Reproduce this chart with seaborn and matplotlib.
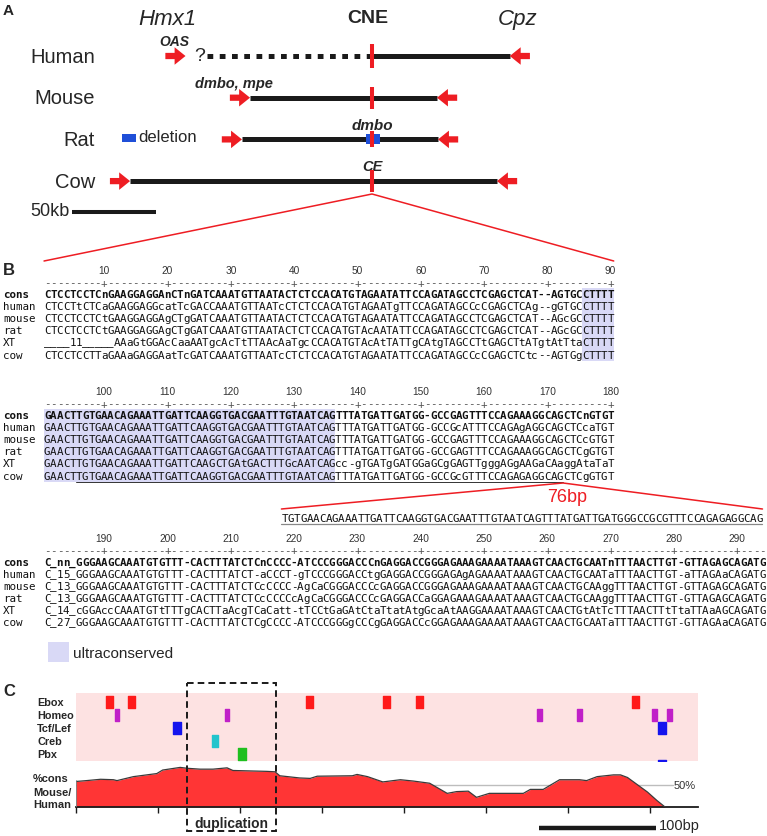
import numpy as np
import pandas as pd
import seaborn as sns
import matplotlib.pyplot as plt
from matplotlib import transforms
from matplotlib.patches import Rectangle, FancyArrow

# ---------------- Panel A data (kb, CNE at 0) ----------------
species = ['Human', 'Mouse', 'Rat', 'Cow']
hmx1_kb = [-111, -72.6, -77.4, -144]      # Hmx1 end (arrow tip)
cpz_kb = [82, 38.7, 39.3, 74.4]           # Cpz end (arrow tip)
human_unknown_kb = [-98, 0]               # unassembled part, dotted
rat_deletion_kb = [-3.6, 4.8]
scale_kb = 50

# ---------------- Panel B data (alignment) ----------------
seq_names = ['cons', 'human', 'mouse', 'rat', 'XT', 'cow']
block_first_pos = [1, 91, 181]

aln_1_90 = [
    'CTCCTCCTCnGAAGGAGGAnCTnGATCAAATGTTAATACTCTCCACATGTAGAATATTCCAGATAGCCTCGAGCTCAT--AGTGCCTTTT',
    'CTCCTtCTCaGAAGGAGGcatTcGACCAAATGTTAATcCTCTCCACATGTAGAATgTTCCAGATAGCCcCGAGCTCAg--gGTGCCTTTT',
    'CTCCTCCTCtGAAGGAGGAgCTgGATCAAATGTTAATACTCTCCACATGTAGAATATTCCAGATAGCCTCGAGCTCAT--AGcGCCTTTT',
    'CTCCTCCTCtGAAGGAGGAgCTgGATCAAATGTTAATACTCTCCACATGTAcAATATTCCAGATAGCCTCGAGCTCAT--AGcGCCTTTT',
    '____11_____AAaGtGGAcCaaAATgcAcTtTTAAcAaTgcCCACATGTAcAtTATTgCAtgTAGCCTtGAGCTtATgtAtTtaCTTTT',
    'CTCCTCCTTaGAAaGAGGAatTcGATCAAATGTTAATcCTCTCCACATGTAGAATATTCCAGATAGCCcCGAGCTCtc--AGTGgCTTTT',
]
aln_91_180 = [
    'GAACTTGTGAACAGAAATTGATTCAAGGTGACGAATTTGTAATCAGTTTATGATTGATGG-GCCGAGTTTCCAGAAAGGCAGCTCnGTGT',
    'GAACTTGTGAACAGAAATTGATTCAAGGTGACGAATTTGTAATCAGTTTATGATTGATGG-GCCGcATTTCCAGAgAGGCAGCTCcaTGT',
    'GAACTTGTGAACAGAAATTGATTCAAGGTGACGAATTTGTAATCAGTTTATGATTGATGG-GCCGAGTTTCCAGAAAGGCAGCTCcGTGT',
    'GAACTTGTGAACAGAAATTGATTCAAGGTGACGAATTTGTAATCAGTTTATGATTGATGG-GCCGAGTTTCCAGAAAGGCAGCTCgGTGT',
    'GAACTTGTGAACAGAAATTGATTCAAGCTGAtGACTTTGcAATCAGcc-gTGATgGATGGaGCgGAGTTgggAGgAAGaCAaggAtaTaT',
    'GAACTTGTGAACAGAAATTGATTCAAGGTGACGAATTTGTAATCAGTTTATGATTGATGG-GCCGcGTTTCCAGAGAGGCAGCTCgGTGT',
]
aln_181_294 = [
    'C_nn_GGGAAGCAAATGTGTTT-CACTTTATCTCnCCCC-ATCCCGGGACCCnGAGGACCGGGAGAAAGAAAATAAAGTCAACTGCAATnTTTAACTTGT-GTTAGAGCAGATG',
    'C_15_GGGAAGCAAATGTGTTT-CACTTTATCT-aCCCT-gTCCCGGGACCtgGAGGACCGGGAGAgAGAAAATAAAGTCAACTGCAATaTTTAACTTGT-aTTAGAaCAGATG',
    'C_13_GGGAAGCAAATGTGTTT-CACTTTATCTCcCCCC-AgCaCGGGACCCcGAGGACCGGGAGAAAGAAAATAAAGTCAACTGCAAggTTTAACTTGT-GTTAGAGCAGATG',
    'C_13_GGGAAGCAAATGTGTTT-CACTTTATCTCcCCCCcAgCaCGGGACCCcGAGGACCaGGAGAAAGAAAATAAAGTCAACTGCAAggTTTAACTTGT-GTTAGAGCAGATG',
    'C_14_cGGAccCAAATGTtTTTgCACTTaAcgTCaCatt-tTCCtGaGAtCtaTtatAtgGcaAtAAGGAAAATAAAGTCAACTGtAtTcTTTAACTTtTtaTTAaAGCAGATG',
    'C_27_GGGAAGCAAATGTGTTT-CACTTTATCTCgCCCC-ATCCCGGGgCCCgGAGGACCcGGAGAAAGAAAATAAAGTCAACTGCAATaTTTAACTTGT-GTTAGAaCAGATG',
]
ultra_start = [86, 91]
ultra_end = [90, 136]
dup_first, dup_last = 96, 172     # underlined stretch in cow

# ---------------- Panel C data (bp) ----------------
motif_names = ['Ebox', 'Homeo', 'Tcf/Lef', 'Creb', 'Pbx']
motif_len = [6, 4, 7, 5, 7]
motif_colors = ['#ff1a1a', '#c020c8', '#1414ee', '#22c4cc', '#1fbf1f']
ebox_bp = [26, 44, 196, 262, 290, 475]
homeo_bp = [33, 127, 394, 428, 492, 505]
tcf_bp = [83, 497]
creb_bp = [116]
pbx_bp = [138]
cons_bp = [0, 9, 21, 32, 35, 49, 69, 74, 89, 95, 106, 117, 129, 134, 163,
           170, 174, 191, 200, 206, 236, 240, 249, 262, 277, 288, 302, 317, 325, 335,
           342, 353, 382, 388, 399, 413, 430, 436, 445, 459, 465, 471, 488, 496, 503]
cons_pct = [58, 60, 63, 62, 60, 69, 76, 84, 90, 88, 86, 86, 89, 83, 81,
            80, 71, 66, 65, 70, 71, 74, 69, 57, 62, 59, 54, 31, 35, 36,
            22, 31, 31, 40, 40, 62, 62, 60, 69, 73, 73, 67, 34, 15, 0]
dup_start_bp, dup_len_bp = 95, 76
scalebar_bp = 100

# ---------------- style ----------------
sns.set_theme(style='white')
plt.rcParams['font.family'] = ['Liberation Sans', 'DejaVu Sans']
MONO = 'DejaVu Sans Mono'
RED = '#ee1d23'
ULTRA = '#d9d9f6'

W, H = 767, 837
fig = plt.figure(figsize=(W / 100, H / 100), dpi=100)
fig.patch.set_facecolor('white')


def px_axes(x0, y0, x1, y1):
    return fig.add_axes([x0 / W, 1 - y1 / H, (x1 - x0) / W, (y1 - y0) / H])


# overlay in pixel coordinates, for labels and connectors
over = px_axes(0, 0, W, H)
over.set_xlim(0, W)
over.set_ylim(H, 0)
over.axis('off')

#-------------------------------------------------------------------------#
### Panel A: loci
kb_px, cne_px, row0, row_h = 1.68, 372, 57, 41.7
axA = px_axes(0, 0, W, 262)
axA.set_xlim(-cne_px / kb_px, (W - cne_px) / kb_px)
axA.set_ylim((262 - row0) / row_h, -row0 / row_h)
axA.axis('off')

tick_half = [0.29, 0.26, 0.19, 0.26]
arr = dict(width=0.15, head_width=0.42, head_length=6.5,
           length_includes_head=True, color=RED, lw=0, zorder=3)
for i, sp in enumerate(species):
    if i == 0:
        axA.plot(human_unknown_kb, [i, i], color='k', lw=3.6,
                 dashes=(1.15, 1.3), dash_capstyle='butt')
        axA.plot([0, cpz_kb[i]], [i, i], color='k', lw=3.6, solid_capstyle='butt')
    else:
        axA.plot([hmx1_kb[i], cpz_kb[i]], [i, i], color='k', lw=3.6,
                 solid_capstyle='butt')
    axA.add_patch(FancyArrow(hmx1_kb[i] - 12, i, 12, 0, **arr))
    axA.add_patch(FancyArrow(cpz_kb[i] + 12, i, -12, 0, **arr))
    if sp == 'Rat':
        axA.add_patch(Rectangle((rat_deletion_kb[0], i - 0.12),
                                rat_deletion_kb[1] - rat_deletion_kb[0], 0.24,
                                color='#1f4fd8', lw=0, zorder=3))
    axA.plot([0, 0], [i - tick_half[i], i + tick_half[i]], color=RED, lw=2.9,
             solid_capstyle='butt', zorder=4)
    over.text(95, row0 + row_h * i, sp, ha='right', va='center', fontsize=14.5)

bar_x0 = (72 - cne_px) / kb_px
axA.plot([bar_x0, bar_x0 + scale_kb], [3.73, 3.73], color='k', lw=2.9,
         solid_capstyle='butt')
over.text(70, 211, f'{scale_kb}kb', ha='right', va='center', fontsize=13)

over.text(3, 11, 'A', fontsize=11, weight='bold', va='center')
over.text(167, 19, 'Hmx1', fontsize=16, style='italic', ha='center', va='center')
over.text(368, 18, 'CNE', fontsize=14, weight='bold', ha='center', va='center')
over.text(518, 19, 'Cpz', fontsize=16, style='italic', ha='center', va='center')
over.text(174, 42, 'OAS', fontsize=10, weight='bold', style='italic', ha='center', va='center')
over.text(200, 56, '?', fontsize=14, ha='center', va='center')
over.text(195, 84, 'dmbo, mpe', fontsize=10.5, weight='bold', style='italic', va='center')
over.text(372, 126, 'dmbo', fontsize=11, weight='bold', style='italic', ha='center', va='center')
over.text(372, 167, 'CE', fontsize=10.5, weight='bold', style='italic', ha='center', va='center')
over.add_patch(Rectangle((122, 135), 14, 8, color='#1f4fd8', lw=0))
over.text(138, 137, 'deletion', fontsize=12, va='center')

#-------------------------------------------------------------------------#
### Panel B: alignment (one glyph per column so the grid stays exact)
colw, col0 = 6.33, 47.2
axB = px_axes(0, 0, W, H)
axB.set_xlim(-col0 / colw, (W - col0) / colw)
axB.set_ylim(H, 0)
axB.axis('off')

blocks = [aln_1_90, aln_91_180, aln_181_294]
cons_y = [295, 416, 563]
row_step = 12.1
seq_fs = 7.8


def put_seq(col_start, y, seq, **kw):
    for c, ch in enumerate(seq):
        axB.text(col_start + c, y, ch, family=MONO, fontsize=seq_fs,
                 ha='center', va='center', **kw)


for b, rows in enumerate(blocks):
    first = block_first_pos[b]
    ncol = len(rows[0])
    y0 = cons_y[b]
    for s, e in zip(ultra_start, ultra_end):
        if first <= s < first + ncol:
            axB.add_patch(Rectangle((s - first - 0.5, y0 - 6.5), e - s + 1,
                                    row_step * 5 + 13, color=ULTRA, lw=0, zorder=0))
    ruler = ''.join('+' if (first + c) % 10 == 0 else '-' for c in range(ncol))
    put_seq(0, y0 - 11.5, ruler, color='#555')
    for c in range(ncol):
        if (first + c) % 10 == 0:
            axB.text(c, y0 - 24, str(first + c), ha='center', va='center',
                     fontsize=7.3, color='#333')
    for r, (nm, seq) in enumerate(zip(seq_names, rows)):
        y = y0 + row_step * r
        wt = 'bold' if r == 0 else 'normal'
        put_seq(0, y, seq, weight=wt, color='#111')
        over.text(3, y, nm, family=MONO, fontsize=seq_fs, va='center', weight=wt,
                  color='#111')

# underlined duplicated stretch in cow and its expansion
cow_y = cons_y[1] + row_step * 5
c_a, c_b = dup_first - block_first_pos[1], dup_last - block_first_pos[1]
axB.plot([c_a - 0.5, c_b + 0.5], [cow_y + 6, cow_y + 6], color='#333', lw=0.7)
dup_seq = ''.join(ch for ch in aln_91_180[5][c_a:c_b + 1] if ch != '-').upper()
ins_col = 37.5
put_seq(ins_col, 519, dup_seq, color='#111')
axB.plot([ins_col - 0.5, ins_col + len(dup_seq) - 0.5], [525, 525],
         color='#888', lw=0.9)
axB.plot([ins_col - 0.5, c_b + 0.5, ins_col + len(dup_seq) - 0.5],
         [510, cow_y + 7.5, 510], color=RED, lw=1.1)
over.text(567, 498, f'{len(dup_seq)}bp', color=RED, fontsize=13, ha='center',
          va='center')

# connector from the CNE in panel A to the alignment
left_px = col0 - 0.5 * colw
right_px = col0 + (len(aln_1_90[0]) - 0.5) * colw
over.plot([left_px, cne_px, right_px], [262, 195, 262], color=RED, lw=1.1)

over.text(3, 270, 'B', fontsize=12, weight='bold', va='center')
over.add_patch(Rectangle((48, 643), 21, 20, color=ULTRA, lw=0))
over.text(73, 654, 'ultraconserved', fontsize=11, va='center')

#-------------------------------------------------------------------------#
### Panel C: motifs and conservation
bp_px = 1.171
axM = px_axes(76, 694, 698, 762)
axM.set_facecolor('#fde2e2')
axM.set_xlim(0, 622 / bp_px)
axM.set_ylim((762 - 703) / 13, (694 - 703) / 13)
for sp_ in axM.spines.values():
    sp_.set_visible(False)
axM.set_xticks([])
axM.set_yticks([])
motif_sites = [ebox_bp, homeo_bp, tcf_bp, creb_bp, pbx_bp]
for i, (sites, ln, col) in enumerate(zip(motif_sites, motif_len, motif_colors)):
    axM.broken_barh([(s, ln) for s in sites], (i - 0.45, 0.9), color=col)
    over.text(37, 703 + 13 * i, motif_names[i], fontsize=7.8, weight='bold',
              va='center')
axM.broken_barh([(tcf_bp[-1], motif_len[2])], (4.47, 0.07), color=motif_colors[2])

axC = px_axes(76, 764, 698, 808)
axC.patch.set_alpha(0)
cons_df = pd.DataFrame({'bp': cons_bp, 'pct': cons_pct})
axC.axhline(50, xmax=(673 - 76) / 622, color='#bdbdbd', lw=1, zorder=1)
axC.fill_between(cons_df['bp'], cons_df['pct'], color='#ff3535', lw=0, zorder=2)
sns.lineplot(data=cons_df, x='bp', y='pct', color='#3a3a3a', lw=0.9, ax=axC,
             zorder=3)
axC.plot([cons_bp[0]] * 2, [0, cons_pct[0]], color='#777', lw=1.2, zorder=3)
axC.set_xlim(0, 622 / bp_px)
axC.set_ylim(0, 100)
sns.despine(ax=axC, left=True)
axC.spines['bottom'].set_color('k')
axC.spines['bottom'].set_linewidth(1.3)
axC.set_xticks(np.arange(0, 531, 70))
axC.set_xticklabels([])
axC.set_yticks([])
axC.tick_params(axis='x', bottom=True, direction='out', length=4, width=1,
                color='k')
axC.set_xlabel('')
axC.set_ylabel('')

over.text(685, 786, '50%', fontsize=8, ha='center', va='center', color='#333')
for lab, y in zip(['%cons', 'Mouse/', 'Human'], [779, 793, 805]):
    over.text(33, y, lab, fontsize=8, weight='bold', va='center')
over.text(3, 692, 'C', fontsize=12, weight='bold', va='center')

blend = transforms.blended_transform_factory(axC.transData, over.transData)
axC.add_patch(Rectangle((dup_start_bp, 684), dup_len_bp, 148, transform=blend,
                        fill=False, ec='#1a1a1a', lw=1.4, ls=(0, (3.4, 2.1)),
                        clip_on=False, zorder=5))
axC.text(dup_start_bp + dup_len_bp / 2, 824, 'duplication', transform=blend,
         ha='center', va='center', weight='bold', fontsize=10)
sb_x0 = (539 - 76) / bp_px
axC.plot([sb_x0, sb_x0 + scalebar_bp], [829, 829], transform=blend, color='k',
         lw=3.2, clip_on=False, solid_capstyle='butt')
axC.text(sb_x0 + scalebar_bp + 2, 826, f'{scalebar_bp}bp', transform=blend,
         va='center', fontsize=10.5)

fig.savefig('out.png', dpi=100)
